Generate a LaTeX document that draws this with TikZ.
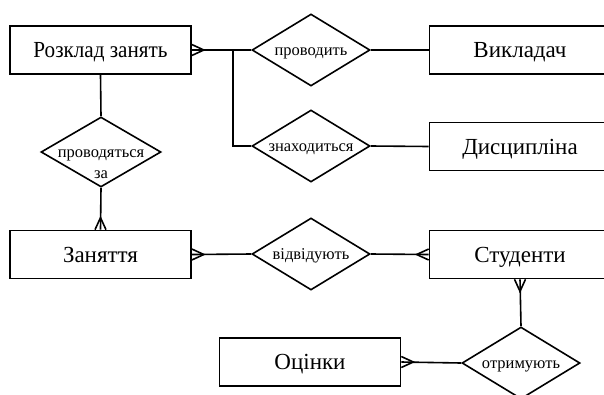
\documentclass[tikz,border=0pt]{standalone}
\usepackage{fontspec}
\setmainfont{Liberation Serif}
\usetikzlibrary{shapes.geometric}
\begin{document}
\begin{tikzpicture}[x=1pt,y=-1pt,line width=1.6pt,
  entity/.style={draw,rectangle,minimum width=181,minimum height=48,inner sep=0,
    text height=15.6pt,text depth=0pt,font=\fontsize{23}{26}\selectfont},
  rellabel/.style={inner sep=0,text height=11pt,text depth=0pt,font=\fontsize{16.5}{21}\selectfont},
  rel/.style={draw,diamond,inner sep=0,minimum width=118,minimum height=72,
    label={[rellabel]center:#1}},
  crow/.pic={\draw (0,-5.5) -- (12,0) -- (0,5.5);}
]
\useasboundingbox (0,0) rectangle (604,394);
\clip (0,0) rectangle (604,394);
\fill[white] (0,0) rectangle (604,394);
% entities
\node[entity] (R) at (100.5,50) {\scalebox{0.92}[1]{Розклад занять}};
\node[entity] (V) at (520,50) {Викладач};
\node[entity] (D) at (520,146.5) {Дисципліна};
\node[entity] (Z) at (100.5,254.5) {Заняття};
\node[entity] (S) at (520,254.5) {Студенти};
\node[entity] (O) at (310,362) {Оцінки};
% relationships
\node[rel=проводить] (d1) at (311,50) {};
\node[rel=знаходиться] (d2) at (311,146) {};
\node[rel={},minimum width=120,minimum height=70] (d3) at (101,152) {};
\node[font=\fontsize{16.5}{21}\selectfont,align=center,inner sep=0,anchor=base] (d3t) at (101,178) {проводяться\\за};
\node[rel=відвідують] (d4) at (311,254) {};
\node[rel=отримують] (d5) at (521,363) {};
\coordinate (br) at (233,50);
% connectors
\draw (R.east) -- (d1.west);
\draw (br) |- (d2.west);
\draw (d1.east) -- (V.west);
\draw (d2.east) -- (D.west);
\draw (R.south) -- (d3.north);
\draw (d3.south) -- (Z.north);
\draw (Z.east) -- (d4.west);
\draw (d4.east) -- (S.west);
\draw (S.south) -- (d5.north);
\draw (d5.west) -- (O.east);
% crow's feet
\pic at (R.east) {crow};
\pic[rotate=90] at (Z.north) {crow};
\pic at (Z.east) {crow};
\pic[rotate=180] at (S.west) {crow};
\pic[rotate=-90] at (S.south) {crow};
\pic at (O.east) {crow};
\end{tikzpicture}
\end{document}
